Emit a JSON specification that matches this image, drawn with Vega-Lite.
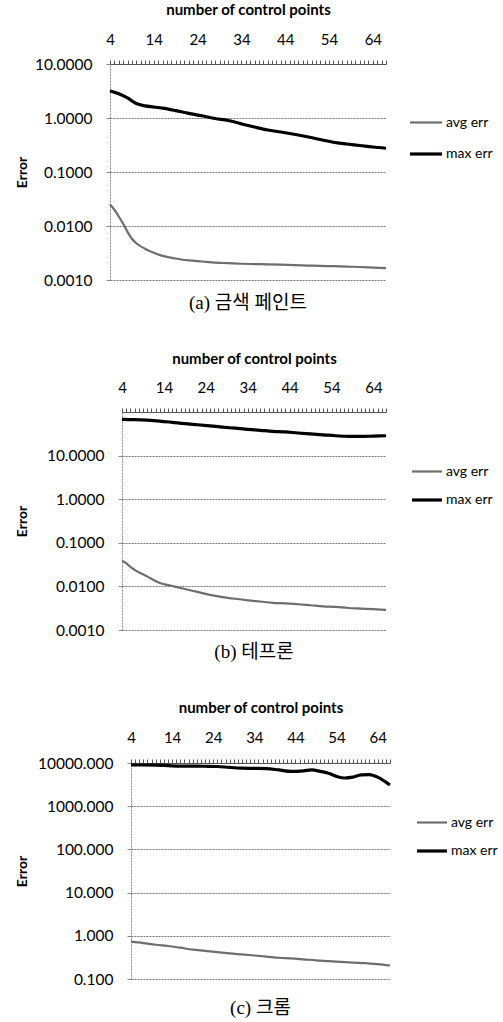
{
  "$schema": "https://vega.github.io/schema/vega-lite/v6.json",
  "padding": {"left": 14, "top": 2, "right": 0, "bottom": 0},
  "spacing": 38,
  "background": "white",
  "resolve": {"scale": {"color": "independent", "strokeWidth": "independent"}, "legend": {"color": "independent", "strokeWidth": "independent"}},
  "config": {
    "font": "Lato",
    "view": {"stroke": null},
    "axis": {"labelFont": "Lato", "titleFont": "Lato", "labelColor": "#000", "titleColor": "#000"},
    "legend": {"labelFont": "Lato", "labelColor": "#000"}
  },
  "vconcat": [
    {
      "spacing": 0,
      "resolve": {"scale": {"color": "independent", "strokeWidth": "independent"}, "legend": {"color": "independent", "strokeWidth": "independent"}},
      "hconcat": [
        {"width": 1, "height": 1, "data": {"values": [{}]}, "mark": {"type": "text"}, "encoding": {"text": {"value": ""}}},
        {
          "width": 276,
          "height": 216,
          "title": {"text": "(a) 금색 페인트", "orient": "bottom", "anchor": "middle", "frame": "group", "offset": 5, "font": "Liberation Serif, Noto Sans CJK KR", "fontSize": 19, "fontWeight": "normal", "color": "#000"},
          "data": {"values": [
            {"n": 4, "series": "avg err", "err": 0.025}, {"n": 5, "series": "avg err", "err": 0.02}, {"n": 6, "series": "avg err", "err": 0.015}, {"n": 7, "series": "avg err", "err": 0.011}, {"n": 8, "series": "avg err", "err": 0.0078}, {"n": 9, "series": "avg err", "err": 0.0058}, {"n": 10, "series": "avg err", "err": 0.0048}, {"n": 12, "series": "avg err", "err": 0.0038}, {"n": 14, "series": "avg err", "err": 0.0032}, {"n": 16, "series": "avg err", "err": 0.0028}, {"n": 19, "series": "avg err", "err": 0.0025}, {"n": 22, "series": "avg err", "err": 0.0023}, {"n": 25, "series": "avg err", "err": 0.0022}, {"n": 28, "series": "avg err", "err": 0.0021}, {"n": 31, "series": "avg err", "err": 0.00205}, {"n": 34, "series": "avg err", "err": 0.002}, {"n": 37, "series": "avg err", "err": 0.00197}, {"n": 40, "series": "avg err", "err": 0.00195}, {"n": 43, "series": "avg err", "err": 0.00192}, {"n": 46, "series": "avg err", "err": 0.00188}, {"n": 49, "series": "avg err", "err": 0.00185}, {"n": 52, "series": "avg err", "err": 0.00182}, {"n": 55, "series": "avg err", "err": 0.0018}, {"n": 58, "series": "avg err", "err": 0.00177}, {"n": 61, "series": "avg err", "err": 0.00174}, {"n": 64, "series": "avg err", "err": 0.0017}, {"n": 67, "series": "avg err", "err": 0.00166},
            {"n": 4, "series": "max err", "err": 3.2}, {"n": 6, "series": "max err", "err": 2.8}, {"n": 8, "series": "max err", "err": 2.35}, {"n": 10, "series": "max err", "err": 1.85}, {"n": 12, "series": "max err", "err": 1.68}, {"n": 14, "series": "max err", "err": 1.6}, {"n": 16, "series": "max err", "err": 1.52}, {"n": 19, "series": "max err", "err": 1.37}, {"n": 22, "series": "max err", "err": 1.22}, {"n": 25, "series": "max err", "err": 1.1}, {"n": 28, "series": "max err", "err": 0.98}, {"n": 31, "series": "max err", "err": 0.9}, {"n": 34, "series": "max err", "err": 0.78}, {"n": 37, "series": "max err", "err": 0.68}, {"n": 40, "series": "max err", "err": 0.6}, {"n": 43, "series": "max err", "err": 0.55}, {"n": 46, "series": "max err", "err": 0.5}, {"n": 49, "series": "max err", "err": 0.45}, {"n": 52, "series": "max err", "err": 0.4}, {"n": 55, "series": "max err", "err": 0.355}, {"n": 58, "series": "max err", "err": 0.33}, {"n": 61, "series": "max err", "err": 0.31}, {"n": 64, "series": "max err", "err": 0.29}, {"n": 67, "series": "max err", "err": 0.275}
          ]},
          "mark": {"type": "line", "interpolate": "monotone"},
          "encoding": {
            "x": {"field": "n", "type": "quantitative", "scale": {"domain": [4, 67], "nice": false, "zero": false},
              "axis": {"orient": "top", "title": "number of control points", "values": [4,5,6,7,8,9,10,11,12,13,14,15,16,17,18,19,20,21,22,23,24,25,26,27,28,29,30,31,32,33,34,35,36,37,38,39,40,41,42,43,44,45,46,47,48,49,50,51,52,53,54,55,56,57,58,59,60,61,62,63,64,65,66,67],
                "labelExpr": "(datum.value - 4) % 10 === 0 ? datum.label : ''", "labelFlush": false, "labelOverlap": false, "labelBound": false, "grid": false,
                "tickSize": 4, "tickColor": "#555", "domainColor": "#555", "labelPadding": 13, "labelFontSize": 15, "titlePadding": 15, "titleFontSize": 15, "titleFontWeight": "bold"}},
            "y": {"field": "err", "type": "quantitative", "scale": {"type": "log", "domain": [0.001, 10], "nice": false},
              "axis": {"title": "Error", "values": [10, 1, 0.1, 0.01, 0.001], "format": ".4f", "grid": true, "gridColor": "#777", "gridDash": [2, 1],
                "domainColor": "#888", "domainDash": [2, 1], "tickSize": 4, "tickColor": "#888", "labelPadding": 14, "labelFontSize": 15.5,
                "minExtent": 73, "maxExtent": 73, "titlePadding": 8, "titleFontSize": 14, "titleFontWeight": "bold"}},
            "color": {"field": "series", "type": "nominal", "scale": {"domain": ["avg err", "max err"], "range": ["#6e6e6e", "#000000"]},
              "legend": {"title": null, "orient": "none", "legendX": 298, "legendY": 41, "symbolType": "stroke", "symbolSize": 1024, "rowPadding": 6, "labelFontSize": 14, "labelOffset": 2, "padding": 0}},
            "strokeWidth": {"field": "series", "type": "nominal", "scale": {"domain": ["avg err", "max err"], "range": [2.2, 3.2]},
              "legend": {"title": null, "orient": "none", "legendX": 298, "legendY": 41, "symbolType": "stroke", "symbolSize": 1024, "rowPadding": 6, "labelFontSize": 14, "labelOffset": 2, "padding": 0}}
          }
        }
      ]
    },
    {
      "spacing": 0,
      "resolve": {"scale": {"color": "independent", "strokeWidth": "independent"}, "legend": {"color": "independent", "strokeWidth": "independent"}},
      "hconcat": [
        {"width": 1, "height": 1, "data": {"values": [{}]}, "mark": {"type": "text"}, "encoding": {"text": {"value": ""}}},
        {
          "width": 264,
          "height": 218,
          "title": {"text": "(b) 테프론", "orient": "bottom", "anchor": "middle", "frame": "group", "offset": 4, "font": "Liberation Serif, Noto Sans CJK KR", "fontSize": 19, "fontWeight": "normal", "color": "#000"},
          "data": {"values": [
            {"n": 4, "series": "avg err", "err": 0.039}, {"n": 5, "series": "avg err", "err": 0.034}, {"n": 6, "series": "avg err", "err": 0.028}, {"n": 7, "series": "avg err", "err": 0.024}, {"n": 10, "series": "avg err", "err": 0.017}, {"n": 13, "series": "avg err", "err": 0.012}, {"n": 16, "series": "avg err", "err": 0.0102}, {"n": 19, "series": "avg err", "err": 0.0087}, {"n": 22, "series": "avg err", "err": 0.0075}, {"n": 25, "series": "avg err", "err": 0.0064}, {"n": 28, "series": "avg err", "err": 0.0057}, {"n": 31, "series": "avg err", "err": 0.0052}, {"n": 34, "series": "avg err", "err": 0.0048}, {"n": 37, "series": "avg err", "err": 0.0045}, {"n": 40, "series": "avg err", "err": 0.0042}, {"n": 43, "series": "avg err", "err": 0.0041}, {"n": 46, "series": "avg err", "err": 0.0039}, {"n": 49, "series": "avg err", "err": 0.0037}, {"n": 52, "series": "avg err", "err": 0.0035}, {"n": 55, "series": "avg err", "err": 0.0034}, {"n": 58, "series": "avg err", "err": 0.0032}, {"n": 61, "series": "avg err", "err": 0.0031}, {"n": 64, "series": "avg err", "err": 0.003}, {"n": 67, "series": "avg err", "err": 0.0029},
            {"n": 4, "series": "max err", "err": 68}, {"n": 7, "series": "max err", "err": 67}, {"n": 10, "series": "max err", "err": 65}, {"n": 13, "series": "max err", "err": 62}, {"n": 16, "series": "max err", "err": 58}, {"n": 19, "series": "max err", "err": 54}, {"n": 22, "series": "max err", "err": 51}, {"n": 25, "series": "max err", "err": 48}, {"n": 28, "series": "max err", "err": 45}, {"n": 31, "series": "max err", "err": 42.5}, {"n": 34, "series": "max err", "err": 40}, {"n": 37, "series": "max err", "err": 38}, {"n": 40, "series": "max err", "err": 36}, {"n": 43, "series": "max err", "err": 35}, {"n": 46, "series": "max err", "err": 33}, {"n": 49, "series": "max err", "err": 31.5}, {"n": 52, "series": "max err", "err": 30}, {"n": 55, "series": "max err", "err": 28.5}, {"n": 58, "series": "max err", "err": 27.5}, {"n": 61, "series": "max err", "err": 27.5}, {"n": 64, "series": "max err", "err": 28}, {"n": 67, "series": "max err", "err": 28.5}
          ]},
          "mark": {"type": "line", "interpolate": "monotone"},
          "encoding": {
            "x": {"field": "n", "type": "quantitative", "scale": {"domain": [4, 67], "nice": false, "zero": false},
              "axis": {"orient": "top", "title": "number of control points", "values": [4,5,6,7,8,9,10,11,12,13,14,15,16,17,18,19,20,21,22,23,24,25,26,27,28,29,30,31,32,33,34,35,36,37,38,39,40,41,42,43,44,45,46,47,48,49,50,51,52,53,54,55,56,57,58,59,60,61,62,63,64,65,66,67],
                "labelExpr": "(datum.value - 4) % 10 === 0 ? datum.label : ''", "labelFlush": false, "labelOverlap": false, "labelBound": false, "grid": false,
                "tickSize": 4, "tickColor": "#555", "domainColor": "#555", "labelPadding": 13, "labelFontSize": 15, "titlePadding": 14, "titleFontSize": 15, "titleFontWeight": "bold"}},
            "y": {"field": "err", "type": "quantitative", "scale": {"type": "log", "domain": [0.001, 100], "nice": false},
              "axis": {"title": "Error", "values": [10, 1, 0.1, 0.01, 0.001], "format": ".4f", "grid": true, "gridColor": "#777", "gridDash": [2, 1],
                "domainColor": "#888", "domainDash": [2, 1], "tickSize": 4, "tickColor": "#888", "labelPadding": 14, "labelFontSize": 15.5,
                "minExtent": 72, "maxExtent": 72, "titlePadding": 21, "titleFontSize": 14, "titleFontWeight": "bold"}},
            "color": {"field": "series", "type": "nominal", "scale": {"domain": ["avg err", "max err"], "range": ["#6e6e6e", "#000000"]},
              "legend": {"title": null, "orient": "none", "legendX": 288, "legendY": 43, "symbolType": "stroke", "symbolSize": 900, "rowPadding": 4, "labelFontSize": 14, "labelOffset": 2, "padding": 0}},
            "strokeWidth": {"field": "series", "type": "nominal", "scale": {"domain": ["avg err", "max err"], "range": [2.2, 3.2]},
              "legend": {"title": null, "orient": "none", "legendX": 288, "legendY": 43, "symbolType": "stroke", "symbolSize": 900, "rowPadding": 4, "labelFontSize": 14, "labelOffset": 2, "padding": 0}}
          }
        }
      ]
    },
    {
      "spacing": 0,
      "resolve": {"scale": {"color": "independent", "strokeWidth": "independent"}, "legend": {"color": "independent", "strokeWidth": "independent"}},
      "hconcat": [
        {"width": 1, "height": 1, "data": {"values": [{}]}, "mark": {"type": "text"}, "encoding": {"text": {"value": ""}}},
        {
          "width": 259,
          "height": 216,
          "title": {"text": "(c) 크롬", "orient": "bottom", "anchor": "middle", "frame": "group", "offset": 11, "font": "Liberation Serif, Noto Sans CJK KR", "fontSize": 19, "fontWeight": "normal", "color": "#000"},
          "data": {"values": [
            {"n": 4, "series": "avg err", "err": 0.73}, {"n": 7, "series": "avg err", "err": 0.68}, {"n": 10, "series": "avg err", "err": 0.62}, {"n": 13, "series": "avg err", "err": 0.58}, {"n": 16, "series": "avg err", "err": 0.53}, {"n": 19, "series": "avg err", "err": 0.48}, {"n": 22, "series": "avg err", "err": 0.45}, {"n": 25, "series": "avg err", "err": 0.42}, {"n": 28, "series": "avg err", "err": 0.39}, {"n": 31, "series": "avg err", "err": 0.37}, {"n": 34, "series": "avg err", "err": 0.35}, {"n": 37, "series": "avg err", "err": 0.33}, {"n": 40, "series": "avg err", "err": 0.31}, {"n": 43, "series": "avg err", "err": 0.3}, {"n": 46, "series": "avg err", "err": 0.285}, {"n": 49, "series": "avg err", "err": 0.27}, {"n": 52, "series": "avg err", "err": 0.26}, {"n": 55, "series": "avg err", "err": 0.25}, {"n": 58, "series": "avg err", "err": 0.24}, {"n": 61, "series": "avg err", "err": 0.233}, {"n": 64, "series": "avg err", "err": 0.22}, {"n": 67, "series": "avg err", "err": 0.205},
            {"n": 4, "series": "max err", "err": 9000}, {"n": 7, "series": "max err", "err": 9000}, {"n": 10, "series": "max err", "err": 8900}, {"n": 13, "series": "max err", "err": 8700}, {"n": 16, "series": "max err", "err": 8500}, {"n": 19, "series": "max err", "err": 8450}, {"n": 22, "series": "max err", "err": 8400}, {"n": 25, "series": "max err", "err": 8300}, {"n": 28, "series": "max err", "err": 7900}, {"n": 31, "series": "max err", "err": 7600}, {"n": 34, "series": "max err", "err": 7500}, {"n": 37, "series": "max err", "err": 7400}, {"n": 40, "series": "max err", "err": 6900}, {"n": 43, "series": "max err", "err": 6400}, {"n": 46, "series": "max err", "err": 6600}, {"n": 48, "series": "max err", "err": 6900}, {"n": 50, "series": "max err", "err": 6400}, {"n": 52, "series": "max err", "err": 5800}, {"n": 54, "series": "max err", "err": 4900}, {"n": 56, "series": "max err", "err": 4500}, {"n": 58, "series": "max err", "err": 4700}, {"n": 60, "series": "max err", "err": 5300}, {"n": 62, "series": "max err", "err": 5400}, {"n": 64, "series": "max err", "err": 4700}, {"n": 66, "series": "max err", "err": 3600}, {"n": 67, "series": "max err", "err": 3100}
          ]},
          "mark": {"type": "line", "interpolate": "monotone"},
          "encoding": {
            "x": {"field": "n", "type": "quantitative", "scale": {"domain": [4, 67], "nice": false, "zero": false},
              "axis": {"orient": "top", "title": "number of control points", "values": [4,5,6,7,8,9,10,11,12,13,14,15,16,17,18,19,20,21,22,23,24,25,26,27,28,29,30,31,32,33,34,35,36,37,38,39,40,41,42,43,44,45,46,47,48,49,50,51,52,53,54,55,56,57,58,59,60,61,62,63,64,65,66,67],
                "labelExpr": "(datum.value - 4) % 10 === 0 ? datum.label : ''", "labelFlush": false, "labelOverlap": false, "labelBound": false, "grid": false,
                "tickSize": 4, "tickColor": "#555", "domainColor": "#555", "labelPadding": 14, "labelFontSize": 15, "titlePadding": 15, "titleFontSize": 15, "titleFontWeight": "bold"}},
            "y": {"field": "err", "type": "quantitative", "scale": {"type": "log", "domain": [0.1, 10000], "nice": false},
              "axis": {"title": "Error", "values": [10000, 1000, 100, 10, 1, 0.1], "format": ".3f", "grid": true, "gridColor": "#777", "gridDash": [2, 1],
                "domainColor": "#888", "domainDash": [2, 1], "tickSize": 4, "tickColor": "#888", "labelPadding": 14, "labelFontSize": 15.5,
                "minExtent": 91, "maxExtent": 91, "titlePadding": 11, "titleFontSize": 14, "titleFontWeight": "bold"}},
            "color": {"field": "series", "type": "nominal", "scale": {"domain": ["avg err", "max err"], "range": ["#6e6e6e", "#000000"]},
              "legend": {"title": null, "orient": "none", "legendX": 284, "legendY": 43, "symbolType": "stroke", "symbolSize": 900, "rowPadding": 4, "labelFontSize": 14, "labelOffset": 2, "padding": 0}},
            "strokeWidth": {"field": "series", "type": "nominal", "scale": {"domain": ["avg err", "max err"], "range": [2.2, 3.2]},
              "legend": {"title": null, "orient": "none", "legendX": 284, "legendY": 43, "symbolType": "stroke", "symbolSize": 900, "rowPadding": 4, "labelFontSize": 14, "labelOffset": 2, "padding": 0}}
          }
        }
      ]
    }
  ]
}
